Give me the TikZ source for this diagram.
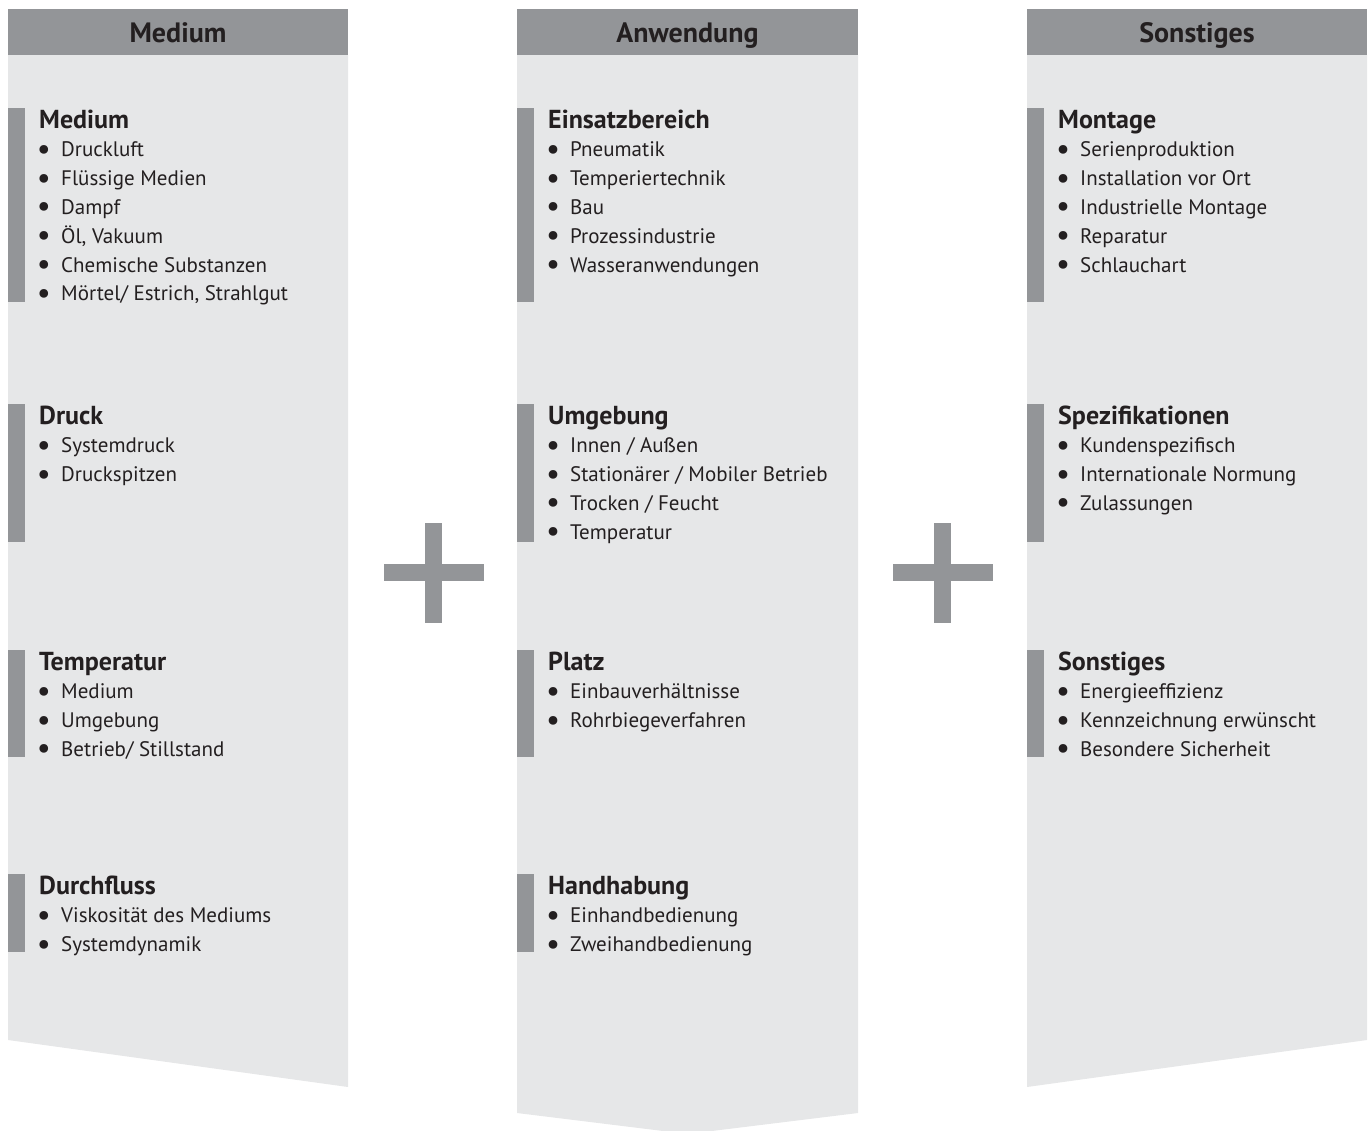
\documentclass[tikz,border=0pt]{standalone}
\usepackage{fontspec}
\setmainfont{PT Sans}
\definecolor{hdr}{HTML}{939598}
\definecolor{bodyc}{HTML}{E6E7E8}
\definecolor{txt}{HTML}{231F20}
\tikzset{
  hdrtext/.style={font=\fontsize{28}{32}\selectfont\bfseries, text=txt, anchor=base, inner sep=0pt},
  headtext/.style={font=\fontsize{26}{30}\selectfont\bfseries, text=txt, anchor=base west, inner sep=0pt},
  itemtext/.style={font=\fontsize{21}{25}\selectfont, text=txt, anchor=base west, inner sep=0pt},
  bullettext/.style={font=\fontsize{31}{35}\selectfont, text=txt, anchor=base, inner sep=0pt},
  barfill/.style={fill=hdr},
  bodyfill/.style={fill=bodyc},
}
% #1 name, #2 column left x, #3 bar top, #4 bar bottom, #5 heading, #6 items
\newcommand\myblock[6]{%
  \fill[barfill] (#2,#3) rectangle ({#2+17},#4);
  \node[headtext] (#1h) at ({#2+31},{#3+20}) {#5};
  \foreach \t [count=\i] in {#6} {
    \node[bullettext] (#1d\i) at ({#2+36},{#3+22.5+28.8*\i}) {•};
    \node[itemtext] (#1t\i) at ({#2+53},{#3+20+28.8*\i}) {\t};
  }%
}
\newcommand\myplus[3]{% name, cx, cy
  \fill[barfill] ({#2-50},{#3-8.5}) rectangle ({#2+50},{#3+8.5});
  \fill[barfill] ({#2-8.5},{#3-50}) rectangle ({#2+8.5},{#3+50});
  \coordinate (#1) at (#2,#3);
}
\begin{document}
\begin{tikzpicture}[x=1pt,y=-1pt]
\useasboundingbox (0,0) rectangle (1372,1130);
% columns
\fill[bodyfill] (8,55) -- (348,55) -- (348,1087) -- (8,1040) -- cycle;
\fill[bodyfill] (517,55) -- (858,55) -- (858,1113) -- (687.5,1134) -- (517,1113) -- cycle;
\fill[bodyfill] (1027,55) -- (1367,55) -- (1367,1040) -- (1027,1087) -- cycle;
\fill[barfill] (8,9) rectangle (348,55);
\fill[barfill] (517,9) rectangle (858,55);
\fill[barfill] (1027,9) rectangle (1367,55);
\node[hdrtext] (h1) at (178,42.5) {Medium};
\node[hdrtext] (h2) at (687.5,42.5) {Anwendung};
\node[hdrtext] (h3) at (1197,42.5) {Sonstiges};
% column 1
\myblock{a1}{8}{108}{302}{Medium}{Druckluft,Flüssige Medien,Dampf,{Öl, Vakuum},Chemische Substanzen,{Mörtel/ Estrich, Strahlgut}}
\myblock{a2}{8}{404}{542}{Druck}{Systemdruck,Druckspitzen}
\myblock{a3}{8}{650}{757}{Temperatur}{Medium,Umgebung,Betrieb/ Stillstand}
\myblock{a4}{8}{874}{952}{Durchfluss}{Viskosität des Mediums,Systemdynamik}
% column 2
\myblock{b1}{517}{108}{302}{Einsatzbereich}{Pneumatik,Temperiertechnik,Bau,Prozessindustrie,Wasseranwendungen}
\myblock{b2}{517}{404}{542}{Umgebung}{Innen / Außen,Stationärer / Mobiler Betrieb,Trocken / Feucht,Temperatur}
\myblock{b3}{517}{650}{757}{Platz}{Einbauverhältnisse,Rohrbiegeverfahren}
\myblock{b4}{517}{874}{952}{Handhabung}{Einhandbedienung,Zweihandbedienung}
% column 3
\myblock{c1}{1027}{108}{302}{Montage}{Serienproduktion,Installation vor Ort,Industrielle Montage,Reparatur,Schlauchart}
\myblock{c2}{1027}{404}{542}{Spezifikationen}{Kundenspezifisch,Internationale Normung,Zulassungen}
\myblock{c3}{1027}{650}{757}{Sonstiges}{Energieeffizienz,Kennzeichnung erwünscht,Besondere Sicherheit}
% plus signs
\myplus{p1}{433.5}{572.5}
\myplus{p2}{942.5}{572.5}
\end{tikzpicture}
\end{document}
